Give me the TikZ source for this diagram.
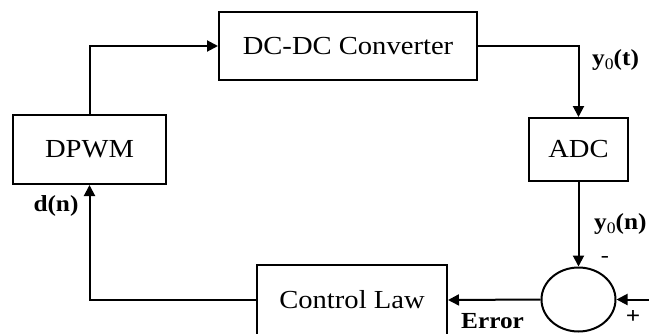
\documentclass[tikz,border=0pt]{standalone}
\usepackage{fontspec}
\setmainfont{Liberation Serif}[FakeStretch=1.1]
\usetikzlibrary{arrows.meta,shapes.geometric}
\newcommand{\subz}{{\mdseries\fontsize{16}{16}\selectfont\raisebox{-3.5pt}{0}}}
\begin{document}
\begin{tikzpicture}[x=1pt,y=-1pt,
  blk/.style={draw,line width=2pt,inner sep=0pt,font=\fontsize{26}{30}\selectfont},
  lbl/.style={font=\fontsize{23}{26}\selectfont\bfseries,inner sep=0pt},
  wire/.style={line width=2pt},
  arr/.style={wire,-{Triangle[length=11pt,width=11pt]}}]
\useasboundingbox (0,0) rectangle (649,333);
\clip (0,0) rectangle (649,333);
\node[blk,minimum width=153pt,minimum height=69pt] (dpwm) at (89.5,149.5) {DPWM};
\node[blk,minimum width=258pt,minimum height=68pt] (conv) at (348,46) {DC-DC Converter};
\node[blk,minimum width=99pt,minimum height=63pt] (adc) at (578.5,149.5) {ADC};
\node[blk,minimum width=190pt,minimum height=70pt] (law) at (352,300) {Control Law};
\node[draw,line width=2pt,ellipse,minimum width=74pt,minimum height=64pt,inner sep=0pt] (sum) at (578.5,299.5) {};
\coordinate (c1) at (89.5,46);
\coordinate (c2) at (578.5,46);
\coordinate (c3) at (89.5,300);
\coordinate (in) at (660,299.5);
\draw[arr] (dpwm.north) -- (c1) -- (conv.west);
\draw[arr] (conv.east) -- (c2) -- (adc.north);
\draw[arr] (adc.south) -- (sum.north);
\draw[arr] (in) -- (sum.east);
\draw[arr] (sum.west) -- (law.east);
\draw[arr] (law.west) -- (c3) -- (dpwm.south);
\node[lbl,anchor=west] (yt) at (592,60) {y\subz(t)};
\node[lbl,anchor=west] (yn) at (594,224) {y\subz(n)};
\node[font=\fontsize{22}{24}\selectfont,inner sep=0pt,anchor=base] (minus) at (605,262) {-};
\node[lbl] (plus) at (633,317) {+};
\node[lbl,anchor=base west] (err) at (461,328) {Error};
\node[lbl] (dn) at (56,206) {d(n)};
\end{tikzpicture}
\end{document}
